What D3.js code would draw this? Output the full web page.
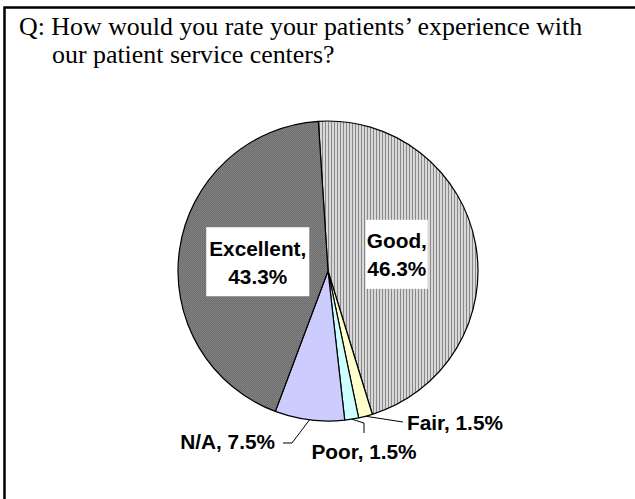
<!DOCTYPE html>
<html><head><meta charset="utf-8">
<script src="https://cdn.jsdelivr.net/npm/d3@7"></script>
<style>body{margin:0;background:#fff}svg{display:block}</style>
</head><body>
<svg id="c" width="635" height="499"></svg>
<script>
const categories = ["Good", "Fair", "Poor", "N/A", "Excellent"];
const values = [46.3, 1.5, 1.5, 7.5, 43.3];
const labelTexts = ["Good, 46.3%", "Fair, 1.5%", "Poor, 1.5%", "N/A, 7.5%", "Excellent, 43.3%"];
const titleLines = ["Q: How would you rate your patients\u2019 experience with", "our patient service centers?"];

const svg = d3.select("#c");
const defs = svg.append("defs");
// Good: vertical stripes
const pg = defs.append("pattern").attr("id","stripes").attr("patternUnits","userSpaceOnUse").attr("width",3).attr("height",3);
pg.append("rect").attr("width",3).attr("height",3).attr("fill","#d8d8d8");
pg.append("rect").attr("width",1).attr("height",3).attr("fill","#888888");
// Excellent: dark dotted grey
const pe = defs.append("pattern").attr("id","dots").attr("patternUnits","userSpaceOnUse").attr("width",2).attr("height",2);
pe.append("rect").attr("width",2).attr("height",2).attr("fill","#808080");
pe.append("rect").attr("width",1).attr("height",1).attr("fill","#6a6a6a");
pe.append("rect").attr("x",1).attr("y",1).attr("width",1).attr("height",1).attr("fill","#757575");

const fills = {"Good":"url(#stripes)","Fair":"#ffffcc","Poor":"#ccffff","N/A":"#ccccff","Excellent":"url(#dots)"};

// frame
svg.append("rect").attr("x",4.5).attr("y",7.5).attr("width",700).attr("height",600)
  .attr("fill","none").attr("stroke","#000").attr("stroke-width",2.5);

// title
const t = svg.append("text").attr("font-family","'Liberation Serif','Times New Roman',serif")
  .attr("font-size",25.9).attr("fill","#000");
t.append("tspan").attr("x",19).attr("y",35).text(titleLines[0]);
t.append("tspan").attr("x",52).attr("y",63).text(titleLines[1]);

const cx = 328, cy = 271, R = 150;
const start = -3.7 * Math.PI / 180;
const data = categories.map((c,i)=>({cat:c, v:values[i], label:labelTexts[i]}));
const pie = d3.pie().value(d=>d.v).sort(null).startAngle(start).endAngle(start + 2*Math.PI);
const arcs = pie(data);
const arc = d3.arc().innerRadius(0).outerRadius(R);
const edge = d3.arc().innerRadius(R).outerRadius(R);
const inner = d3.arc().innerRadius(70).outerRadius(70);

const g = svg.append("g").attr("transform",`translate(${cx},${cy})`);
g.selectAll("path.slice").data(arcs).join("path").attr("class","slice")
  .attr("d",arc).attr("fill",d=>fills[d.data.cat])
  .attr("stroke","#000").attr("stroke-width",1.2).attr("stroke-linejoin","round");

const font = "'Liberation Sans',Arial,sans-serif";
const fs = 20.8;
// inside labels with white boxes
const insideOffsets = {"Good":[0,-4], "Excellent":[-1,1]};
const boxSize = {"Good":[62,69], "Excellent":[103,69]};
arcs.filter(d=>d.data.cat==="Good"||d.data.cat==="Excellent").forEach(d=>{
  const [x0,y0] = inner.centroid(d);
  const off = insideOffsets[d.data.cat];
  const x = x0+off[0], y = y0+off[1];
  const [bw,bh] = boxSize[d.data.cat];
  g.append("rect").attr("x",x-bw/2).attr("y",y-bh/2).attr("width",bw).attr("height",bh).attr("fill","#fff");
  const parts = d.data.label.split(" ");
  const tx = g.append("text").attr("text-anchor","middle").attr("font-family",font)
    .attr("font-weight","bold").attr("font-size",fs).attr("fill","#000");
  tx.append("tspan").attr("x",x).attr("y",y-6).text(parts[0]);
  tx.append("tspan").attr("x",x).attr("y",y+22).text(parts[1]);
});

// outside labels with leader lines (relative to pie centre)
const outside = {
  "Fair": {pts:[[75,151]], text:[79,159], anchor:"start"},
  "Poor": {pts:[[36,152],[36,162]], text:[36,188], anchor:"middle"},
  "N/A":  {pts:[[-36,172],[-45,172]], text:[-53,178], anchor:"end"}
};
arcs.filter(d=>outside[d.data.cat]).forEach(d=>{
  const o = outside[d.data.cat];
  const p0 = edge.centroid(d);
  g.append("path").attr("d", d3.line()([p0, ...o.pts])).attr("fill","none")
    .attr("stroke","#000").attr("stroke-width",1);
  g.append("text").attr("x",o.text[0]).attr("y",o.text[1]).attr("text-anchor",o.anchor)
    .attr("font-family",font).attr("font-weight","bold").attr("font-size",fs).attr("fill","#000")
    .text(d.data.label);
});
</script>
</body></html>
